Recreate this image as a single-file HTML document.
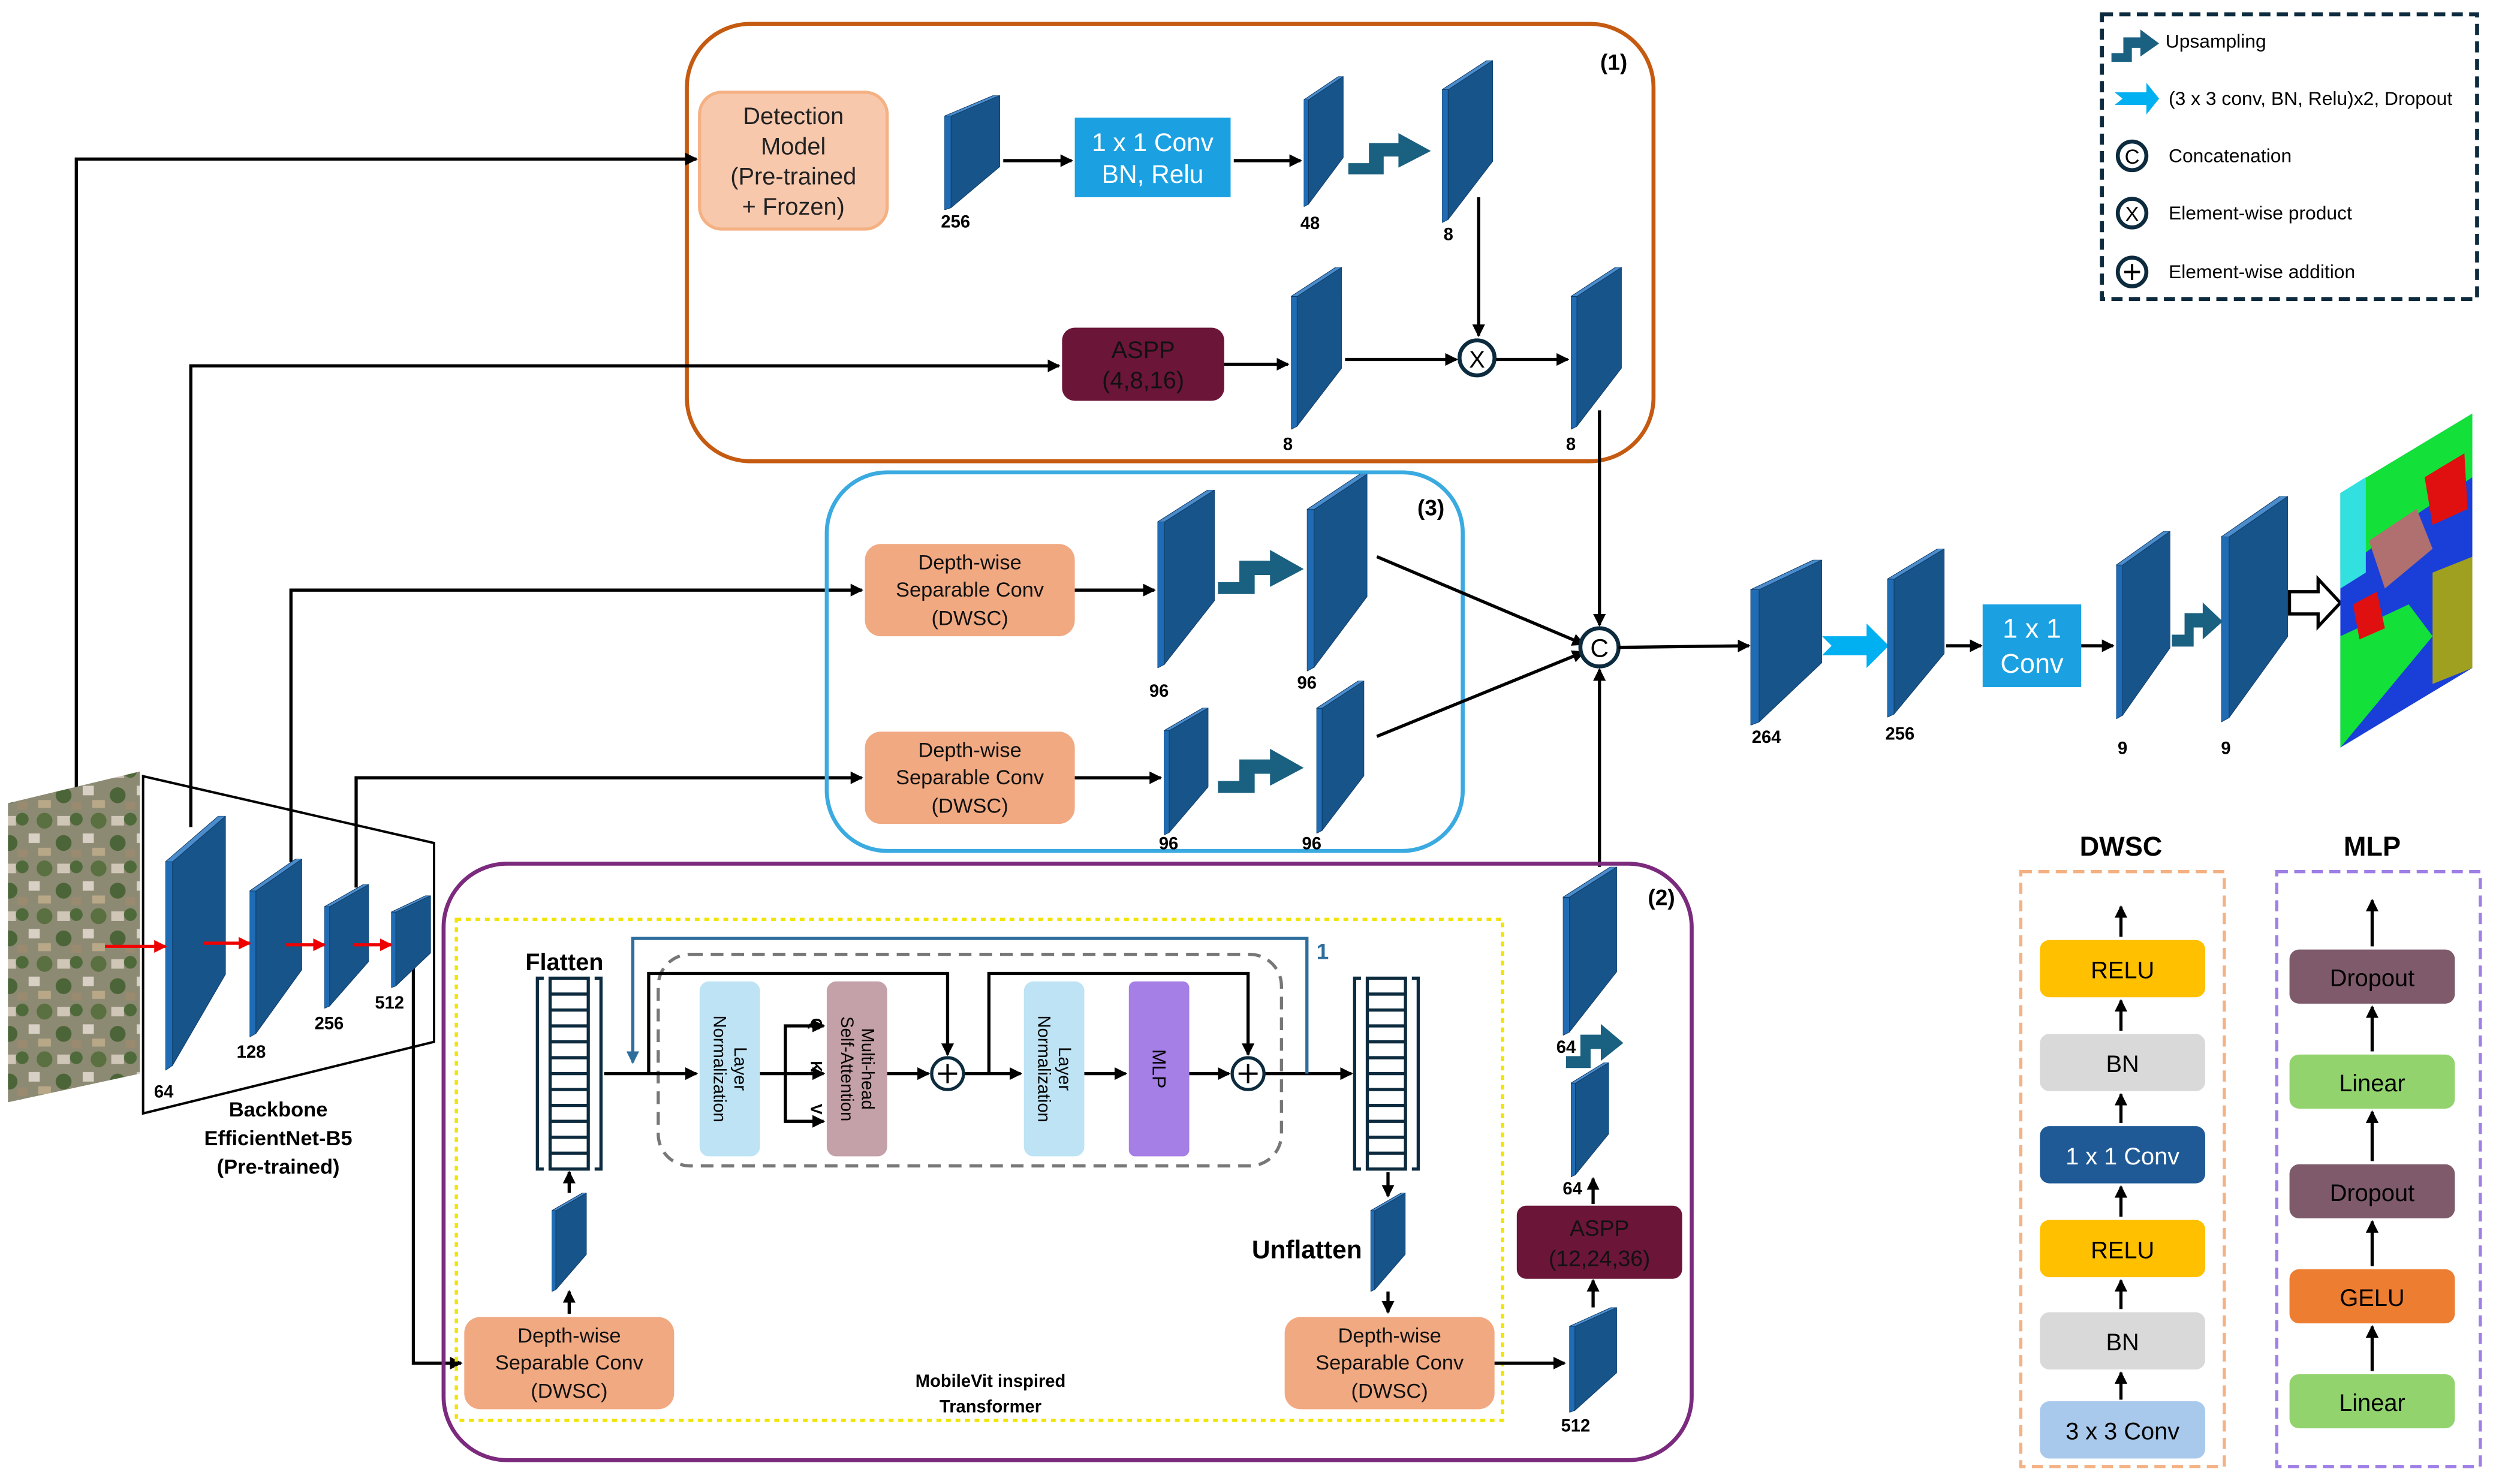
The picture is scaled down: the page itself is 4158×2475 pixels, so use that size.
<!DOCTYPE html>
<html><head><meta charset="utf-8">
<style>
html,body{margin:0;padding:0;background:#fff;}
svg{display:block;}
text{font-family:"Liberation Sans Narrow","Liberation Sans",sans-serif;}
</style></head>
<body>
<svg xmlns="http://www.w3.org/2000/svg" xmlns:xlink="http://www.w3.org/1999/xlink" width="4158" height="2475" viewBox="0 0 1568 933" preserveAspectRatio="none">
<defs>
<symbol id="cube" viewBox="0 0 100 100" preserveAspectRatio="none">
<polygon points="0,18 12,18 12,98 0,100" fill="#1f6cb4" stroke="#0f3a66" stroke-width="1" vector-effect="non-scaling-stroke"/>
<polygon points="12,18 100,0 100,62 12,98" fill="#17548a" stroke="#0f3a66" stroke-width="1" vector-effect="non-scaling-stroke"/>
<polygon points="0,18 88,0 100,0 12,18" fill="#4a8ccc" stroke="#0f3a66" stroke-width="1" vector-effect="non-scaling-stroke"/>
</symbol>
<symbol id="up" viewBox="0 0 56 40" preserveAspectRatio="none">
<path d="M0 38 V28 H14 V10 H34 V1 L56 17 L34 32 V22 H24 V38 Z" fill="#1a6080"/>
</symbol>
<marker id="ah" markerWidth="8" markerHeight="8" refX="7" refY="4" orient="auto" markerUnits="userSpaceOnUse">
<path d="M0,0 L8,4 L0,8 Z" fill="#000"/></marker>
<marker id="ahb" markerWidth="8" markerHeight="8" refX="7" refY="4" orient="auto" markerUnits="userSpaceOnUse">
<path d="M0,0 L8,4 L0,8 Z" fill="#2e6e9e"/></marker>
<marker id="ahr" markerWidth="8" markerHeight="8" refX="7" refY="4" orient="auto" markerUnits="userSpaceOnUse">
<path d="M0,0 L8,4 L0,8 Z" fill="#e00"/></marker>
<pattern id="sat" width="34" height="30" patternUnits="userSpaceOnUse">
<rect width="34" height="30" fill="#8d8a74"/>
<rect x="2" y="3" width="8" height="6" fill="#cfc6b8"/><rect x="18" y="14" width="7" height="6" fill="#d8d0c4"/>
<circle cx="14" cy="5" r="4" fill="#4f6a3a"/><circle cx="28" cy="6" r="5" fill="#5a7040"/>
<circle cx="6" cy="20" r="5" fill="#4c6538"/><rect x="24" y="23" width="8" height="5" fill="#b8a888"/>
<rect x="11" y="24" width="6" height="5" fill="#9a8a70"/>
</pattern>
</defs>

<!-- Region 1 -->
<rect x="432" y="15" width="608" height="275" rx="40" fill="none" stroke="#c55a11" stroke-width="2.5"/>
<text x="1015" y="44" font-size="14" font-weight="bold" text-anchor="middle">(1)</text>
<rect x="440" y="58" width="118" height="86" rx="14" fill="#f8c8ad" stroke="#f4b183" stroke-width="2"/>
<text font-size="15" text-anchor="middle" fill="#222"><tspan x="499" y="78">Detection</tspan><tspan x="499" y="97">Model</tspan><tspan x="499" y="116">(Pre-trained</tspan><tspan x="499" y="135">+ Frozen)</tspan></text>
<use href="#cube" x="594" y="60" width="35" height="72"/>
<text x="601" y="143" font-size="11" font-weight="bold" text-anchor="middle">256</text>
<line x1="631" y1="101" x2="674" y2="101" stroke="#000" stroke-width="2" marker-end="url(#ah)"/>
<rect x="676" y="74" width="98" height="50" fill="#1ba1e2"/>
<text font-size="16" text-anchor="middle" fill="#fff"><tspan x="725" y="95">1 x 1 Conv</tspan><tspan x="725" y="115">BN, Relu</tspan></text>
<line x1="776" y1="101" x2="818" y2="101" stroke="#000" stroke-width="2" marker-end="url(#ah)"/>
<use href="#cube" x="820" y="48" width="25" height="82"/>
<text x="824" y="144" font-size="11" font-weight="bold" text-anchor="middle">48</text>
<use href="#up" x="848" y="83" width="52" height="28"/>
<use href="#cube" x="907" y="38" width="32" height="102"/>
<text x="911" y="151" font-size="11" font-weight="bold" text-anchor="middle">8</text>
<line x1="930" y1="124" x2="930" y2="211" stroke="#000" stroke-width="2" marker-end="url(#ah)"/>
<rect x="668" y="206" width="102" height="46" rx="8" fill="#6b1538"/>
<text font-size="15" text-anchor="middle" fill="#111"><tspan x="719" y="225">ASPP</tspan><tspan x="719" y="244">(4,8,16)</tspan></text>
<line x1="770" y1="229" x2="810" y2="229" stroke="#000" stroke-width="2" marker-end="url(#ah)"/>
<use href="#cube" x="812" y="168" width="32" height="102"/>
<text x="810" y="283" font-size="11" font-weight="bold" text-anchor="middle">8</text>
<line x1="846" y1="226" x2="916" y2="226" stroke="#000" stroke-width="2" marker-end="url(#ah)"/>
<circle cx="929" cy="225" r="11" fill="#fff" stroke="#0d2b3e" stroke-width="2.5"/>
<text x="929" y="231" font-size="15" text-anchor="middle">X</text>
<line x1="941" y1="226" x2="986" y2="226" stroke="#000" stroke-width="2" marker-end="url(#ah)"/>
<use href="#cube" x="988" y="168" width="32" height="102"/>
<text x="988" y="283" font-size="11" font-weight="bold" text-anchor="middle">8</text>
<line x1="1006" y1="258" x2="1006" y2="393" stroke="#000" stroke-width="2" marker-end="url(#ah)"/>

<!-- Left connectors -->
<polyline points="48,500 48,100 438,100" fill="none" stroke="#000" stroke-width="2" marker-end="url(#ah)"/>
<polyline points="120,520 120,230 666,230" fill="none" stroke="#000" stroke-width="2" marker-end="url(#ah)"/>
<polyline points="183,542 183,371 542,371" fill="none" stroke="#000" stroke-width="2" marker-end="url(#ah)"/>
<polyline points="224,558 224,489 542,489" fill="none" stroke="#000" stroke-width="2" marker-end="url(#ah)"/>
<polyline points="260,605 260,857 290,857" fill="none" stroke="#000" stroke-width="2" marker-end="url(#ah)"/>

<!-- Region 3 -->
<rect x="520" y="297" width="400" height="238" rx="38" fill="none" stroke="#3aaae0" stroke-width="2.5"/>
<text x="900" y="324" font-size="14" font-weight="bold" text-anchor="middle">(3)</text>
<rect x="544" y="342" width="132" height="58" rx="10" fill="#f1a982"/>
<text font-size="13" text-anchor="middle" fill="#111"><tspan x="610" y="358">Depth-wise</tspan><tspan x="610" y="375">Separable Conv</tspan><tspan x="610" y="393">(DWSC)</tspan></text>
<line x1="676" y1="371" x2="726" y2="371" stroke="#000" stroke-width="2" marker-end="url(#ah)"/>
<use href="#cube" x="728" y="308" width="36" height="112"/>
<text x="729" y="438" font-size="11" font-weight="bold" text-anchor="middle">96</text>
<use href="#up" x="766" y="345" width="54" height="30"/>
<use href="#cube" x="822" y="298" width="38" height="124"/>
<text x="822" y="433" font-size="11" font-weight="bold" text-anchor="middle">96</text>
<line x1="866" y1="350" x2="996" y2="405" stroke="#000" stroke-width="2" marker-end="url(#ah)"/>
<rect x="544" y="460" width="132" height="58" rx="10" fill="#f1a982"/>
<text font-size="13" text-anchor="middle" fill="#111"><tspan x="610" y="476">Depth-wise</tspan><tspan x="610" y="493">Separable Conv</tspan><tspan x="610" y="511">(DWSC)</tspan></text>
<line x1="676" y1="489" x2="730" y2="489" stroke="#000" stroke-width="2" marker-end="url(#ah)"/>
<use href="#cube" x="732" y="445" width="28" height="80"/>
<text x="735" y="534" font-size="11" font-weight="bold" text-anchor="middle">96</text>
<use href="#up" x="766" y="470" width="54" height="30"/>
<use href="#cube" x="828" y="428" width="30" height="96"/>
<text x="825" y="534" font-size="11" font-weight="bold" text-anchor="middle">96</text>
<line x1="866" y1="463" x2="996" y2="410" stroke="#000" stroke-width="2" marker-end="url(#ah)"/>

<!-- Concat -->
<circle cx="1006" cy="407" r="12" fill="#fff" stroke="#0d2b3e" stroke-width="2.5"/>
<text x="1006" y="413" font-size="16" text-anchor="middle">C</text>
<line x1="1006" y1="545" x2="1006" y2="421" stroke="#000" stroke-width="2" marker-end="url(#ah)"/>
<line x1="1018" y1="407" x2="1100" y2="406" stroke="#000" stroke-width="2" marker-end="url(#ah)"/>
<use href="#cube" x="1101" y="352" width="45" height="104"/>
<text x="1111" y="467" font-size="11" font-weight="bold" text-anchor="middle">264</text>
<path d="M1146 400 H1174 V392 L1188 406 L1174 420 V412 H1146 L1152 406 Z" fill="#00b0f0"/>
<use href="#cube" x="1187" y="345" width="36" height="106"/>
<text x="1195" y="465" font-size="11" font-weight="bold" text-anchor="middle">256</text>
<line x1="1224" y1="406" x2="1246" y2="406" stroke="#000" stroke-width="2" marker-end="url(#ah)"/>
<rect x="1247" y="380" width="62" height="52" fill="#1ba1e2"/>
<text font-size="17" text-anchor="middle" fill="#fff"><tspan x="1278" y="401">1 x 1</tspan><tspan x="1278" y="423">Conv</tspan></text>
<line x1="1309" y1="406" x2="1329" y2="406" stroke="#000" stroke-width="2" marker-end="url(#ah)"/>
<use href="#cube" x="1331" y="334" width="34" height="118"/>
<text x="1335" y="474" font-size="11" font-weight="bold" text-anchor="middle">9</text>
<use href="#up" x="1366" y="378" width="32" height="30"/>
<use href="#cube" x="1397" y="312" width="42" height="142"/>
<text x="1400" y="474" font-size="11" font-weight="bold" text-anchor="middle">9</text>
<path d="M1440 372 H1458 V364 L1472 379 L1458 394 V386 H1440 Z" fill="#fff" stroke="#000" stroke-width="2"/>
<!-- output map -->
<polygon points="1472,310 1555,260 1555,420 1472,470" fill="#1a3fd8"/>
<polygon points="1472,310 1555,260 1555,300 1510,330 1472,360" fill="#13e13a"/>
<polygon points="1472,400 1515,380 1530,400 1472,470" fill="#13e13a"/>
<polygon points="1490,340 1520,320 1530,345 1500,370" fill="#b07070"/>
<polygon points="1525,300 1550,285 1552,320 1530,330" fill="#e01010"/>
<polygon points="1530,360 1555,350 1555,420 1530,430" fill="#a0a020"/>
<polygon points="1480,380 1495,372 1500,395 1484,402" fill="#e01010"/>
<polygon points="1472,310 1488,300 1488,360 1472,370" fill="#33e0e0"/>

<!-- Backbone -->
<polygon points="5,505 88,485 88,675 5,693" fill="url(#sat)"/>
<polygon points="90,488 273,530 273,655 90,700" fill="none" stroke="#000" stroke-width="1.5"/>
<use href="#cube" x="104" y="513" width="38" height="160"/>
<text x="103" y="690" font-size="11" font-weight="bold" text-anchor="middle">64</text>
<use href="#cube" x="157" y="540" width="33" height="112"/>
<text x="158" y="665" font-size="11" font-weight="bold" text-anchor="middle">128</text>
<use href="#cube" x="204" y="556" width="28" height="78"/>
<text x="207" y="647" font-size="11" font-weight="bold" text-anchor="middle">256</text>
<use href="#cube" x="246" y="563" width="25" height="58"/>
<text x="245" y="634" font-size="11" font-weight="bold" text-anchor="middle">512</text>
<line x1="66" y1="595" x2="104" y2="595" stroke="#e00" stroke-width="2" marker-end="url(#ahr)"/>
<line x1="128" y1="593" x2="157" y2="593" stroke="#e00" stroke-width="2" marker-end="url(#ahr)"/>
<line x1="180" y1="594" x2="204" y2="594" stroke="#e00" stroke-width="2" marker-end="url(#ahr)"/>
<line x1="222" y1="594" x2="246" y2="594" stroke="#e00" stroke-width="2" marker-end="url(#ahr)"/>
<text font-size="13" font-weight="bold" text-anchor="middle"><tspan x="175" y="702">Backbone</tspan><tspan x="175" y="720">EfficientNet-B5</tspan><tspan x="175" y="738">(Pre-trained)</tspan></text>

<!-- Region 2 -->
<rect x="279" y="543" width="785" height="375" rx="40" fill="none" stroke="#7b2a7d" stroke-width="2.5"/>
<text x="1045" y="569" font-size="14" font-weight="bold" text-anchor="middle">(2)</text>
<rect x="287" y="578" width="658" height="315" fill="none" stroke="#f0e400" stroke-width="2" stroke-dasharray="3,3"/>
<rect x="414" y="600" width="392" height="133" rx="20" fill="none" stroke="#777" stroke-width="2" stroke-dasharray="8,5"/>
<text x="355" y="610" font-size="15" font-weight="bold" text-anchor="middle">Flatten</text>
<g stroke="#0d2b3e" stroke-width="2" fill="none">
<rect x="346" y="615" width="24" height="120"/>
<path d="M342 615 H338 V735 H342 M374 615 H378 V735 H374"/>
<path d="M346 625 H370 M346 635 H370 M346 645 H370 M346 655 H370 M346 665 H370 M346 675 H370 M346 685 H370 M346 695 H370 M346 705 H370 M346 715 H370 M346 725 H370"/>
<rect x="860" y="615" width="24" height="120"/>
<path d="M856 615 H852 V735 H856 M888 615 H892 V735 H888"/>
<path d="M860 625 H884 M860 635 H884 M860 645 H884 M860 655 H884 M860 665 H884 M860 675 H884 M860 685 H884 M860 695 H884 M860 705 H884 M860 715 H884 M860 725 H884"/>
</g>
<use href="#cube" x="347" y="750" width="22" height="62"/>
<line x1="358" y1="826" x2="358" y2="812" stroke="#000" stroke-width="2" marker-end="url(#ah)"/>
<line x1="358" y1="750" x2="358" y2="737" stroke="#000" stroke-width="2" marker-end="url(#ah)"/>
<rect x="292" y="828" width="132" height="58" rx="10" fill="#f1a982"/>
<text font-size="13" text-anchor="middle" fill="#111"><tspan x="358" y="844">Depth-wise</tspan><tspan x="358" y="861">Separable Conv</tspan><tspan x="358" y="879">(DWSC)</tspan></text>
<!-- transformer flow -->
<g stroke="#000" stroke-width="2" fill="none">
<line x1="380" y1="675" x2="438" y2="675" marker-end="url(#ah)"/>
<polyline points="408,675 408,612 596,612 596,663" marker-end="url(#ah)"/>
<line x1="478" y1="675" x2="518" y2="675" marker-end="url(#ah)"/>
<polyline points="494,675 494,645 518,645" marker-end="url(#ah)"/>
<polyline points="494,675 494,705 518,705" marker-end="url(#ah)"/>
<line x1="558" y1="675" x2="584" y2="675" marker-end="url(#ah)"/>
<line x1="606" y1="675" x2="642" y2="675" marker-end="url(#ah)"/>
<polyline points="622,675 622,612 785,612 785,663" marker-end="url(#ah)"/>
<line x1="682" y1="675" x2="708" y2="675" marker-end="url(#ah)"/>
<line x1="748" y1="675" x2="773" y2="675" marker-end="url(#ah)"/>
<line x1="795" y1="675" x2="850" y2="675" marker-end="url(#ah)"/>
</g>
<polyline points="822,675 822,590 398,590 398,668" fill="none" stroke="#2e6e9e" stroke-width="2" marker-end="url(#ahb)"/>
<text x="828" y="603" font-size="14" font-weight="bold" fill="#2e6e9e">1</text>
<rect x="440" y="617" width="38" height="110" rx="6" fill="#bde3f5"/>
<text transform="translate(459,672) rotate(90)" font-size="11" text-anchor="middle"><tspan x="0" y="-3">Layer</tspan><tspan x="0" y="10">Normalization</tspan></text>
<rect x="520" y="617" width="38" height="110" rx="6" fill="#c4a0a8"/>
<text transform="translate(539,672) rotate(90)" font-size="11" text-anchor="middle"><tspan x="0" y="-3">Multi-head</tspan><tspan x="0" y="10">Self-Attention</tspan></text>
<text x="510" y="640" font-size="10" font-weight="bold" transform="rotate(90 510 640)">Q</text>
<text x="510" y="667" font-size="10" font-weight="bold" transform="rotate(90 510 667)">K</text>
<text x="510" y="694" font-size="10" font-weight="bold" transform="rotate(90 510 694)">V</text>
<circle cx="596" cy="675" r="10" fill="#fff" stroke="#0d2b3e" stroke-width="2"/>
<path d="M590 675 H602 M596 669 V681" stroke="#000" stroke-width="1.5"/>
<rect x="644" y="617" width="38" height="110" rx="6" fill="#bde3f5"/>
<text transform="translate(663,672) rotate(90)" font-size="11" text-anchor="middle"><tspan x="0" y="-3">Layer</tspan><tspan x="0" y="10">Normalization</tspan></text>
<rect x="710" y="617" width="38" height="110" rx="4" fill="#a57ee6"/>
<text transform="translate(729,672) rotate(90)" font-size="12" text-anchor="middle" y="4">MLP</text>
<circle cx="785" cy="675" r="10" fill="#fff" stroke="#0d2b3e" stroke-width="2"/>
<path d="M779 675 H791 M785 669 V681" stroke="#000" stroke-width="1.5"/>
<line x1="873" y1="737" x2="873" y2="752" stroke="#000" stroke-width="2" marker-end="url(#ah)"/>
<use href="#cube" x="862" y="750" width="22" height="62"/>
<text x="822" y="791" font-size="16" font-weight="bold" text-anchor="middle">Unflatten</text>
<line x1="873" y1="812" x2="873" y2="825" stroke="#000" stroke-width="2" marker-end="url(#ah)"/>
<rect x="808" y="828" width="132" height="58" rx="10" fill="#f1a982"/>
<text font-size="13" text-anchor="middle" fill="#111"><tspan x="874" y="844">Depth-wise</tspan><tspan x="874" y="861">Separable Conv</tspan><tspan x="874" y="879">(DWSC)</tspan></text>
<text font-size="11" font-weight="bold" text-anchor="middle"><tspan x="623" y="872">MobileVit inspired</tspan><tspan x="623" y="888">Transformer</tspan></text>
<line x1="940" y1="857" x2="984" y2="857" stroke="#000" stroke-width="2" marker-end="url(#ah)"/>
<use href="#cube" x="987" y="822" width="30" height="66"/>
<text x="991" y="900" font-size="11" font-weight="bold" text-anchor="middle">512</text>
<line x1="1002" y1="822" x2="1002" y2="805" stroke="#000" stroke-width="2" marker-end="url(#ah)"/>
<rect x="954" y="758" width="104" height="46" rx="6" fill="#6b1538"/>
<text font-size="14" text-anchor="middle" fill="#111"><tspan x="1006" y="777">ASPP</tspan><tspan x="1006" y="796">(12,24,36)</tspan></text>
<line x1="1002" y1="757" x2="1002" y2="741" stroke="#000" stroke-width="2" marker-end="url(#ah)"/>
<use href="#cube" x="988" y="668" width="24" height="72"/>
<text x="989" y="751" font-size="11" font-weight="bold" text-anchor="middle">64</text>
<use href="#up" x="985" y="643" width="36" height="30"/>
<use href="#cube" x="983" y="545" width="34" height="106"/>
<text x="985" y="662" font-size="11" font-weight="bold" text-anchor="middle">64</text>

<!-- Legend -->
<rect x="1322" y="9" width="236" height="179" fill="none" stroke="#0d2b3e" stroke-width="2.5" stroke-dasharray="7,4"/>
<use href="#up" x="1328" y="18" width="30" height="22"/>
<text x="1362" y="30" font-size="12">Upsampling</text>
<path d="M1330 58 H1350 V52 L1358 62 L1350 72 V66 H1330 L1335 62 Z" fill="#00b0f0"/>
<text x="1364" y="66" font-size="12">(3 x 3 conv, BN, Relu)x2, Dropout</text>
<circle cx="1341" cy="98" r="9" fill="none" stroke="#0d2b3e" stroke-width="2.5"/>
<text x="1341" y="103" font-size="13" text-anchor="middle">C</text>
<text x="1364" y="102" font-size="12">Concatenation</text>
<circle cx="1341" cy="134" r="9" fill="none" stroke="#0d2b3e" stroke-width="2.5"/>
<text x="1341" y="139" font-size="13" text-anchor="middle">X</text>
<text x="1364" y="138" font-size="12">Element-wise product</text>
<circle cx="1341" cy="171" r="9" fill="none" stroke="#0d2b3e" stroke-width="2.5"/>
<path d="M1336 171 H1346 M1341 166 V176" stroke="#000" stroke-width="1.5"/>
<text x="1364" y="175" font-size="12">Element-wise addition</text>

<!-- DWSC panel -->
<text x="1334" y="538" font-size="17" font-weight="bold" text-anchor="middle">DWSC</text>
<rect x="1271" y="548" width="128" height="374" fill="none" stroke="#f4b183" stroke-width="2" stroke-dasharray="7,4"/>
<g stroke="#000" stroke-width="2">
<line x1="1334" y1="589" x2="1334" y2="570" marker-end="url(#ah)"/>
<line x1="1334" y1="648" x2="1334" y2="629" marker-end="url(#ah)"/>
<line x1="1334" y1="706" x2="1334" y2="688" marker-end="url(#ah)"/>
<line x1="1334" y1="765" x2="1334" y2="746" marker-end="url(#ah)"/>
<line x1="1334" y1="823" x2="1334" y2="805" marker-end="url(#ah)"/>
<line x1="1334" y1="880" x2="1334" y2="863" marker-end="url(#ah)"/>
</g>
<rect x="1283" y="591" width="104" height="36" rx="6" fill="#ffc000"/><text x="1335" y="615" font-size="15" text-anchor="middle">RELU</text>
<rect x="1283" y="650" width="104" height="36" rx="6" fill="#d9d9d9"/><text x="1335" y="674" font-size="15" text-anchor="middle">BN</text>
<rect x="1283" y="708" width="104" height="36" rx="6" fill="#1f5a96"/><text x="1335" y="732" font-size="15" text-anchor="middle" fill="#fff">1 x 1 Conv</text>
<rect x="1283" y="767" width="104" height="36" rx="6" fill="#ffc000"/><text x="1335" y="791" font-size="15" text-anchor="middle">RELU</text>
<rect x="1283" y="825" width="104" height="36" rx="6" fill="#d9d9d9"/><text x="1335" y="849" font-size="15" text-anchor="middle">BN</text>
<rect x="1283" y="881" width="104" height="36" rx="6" fill="#a9c9ec"/><text x="1335" y="905" font-size="15" text-anchor="middle">3 x 3 Conv</text>

<!-- MLP panel -->
<text x="1492" y="538" font-size="17" font-weight="bold" text-anchor="middle">MLP</text>
<rect x="1432" y="548" width="128" height="374" fill="none" stroke="#9f7fe6" stroke-width="2" stroke-dasharray="7,4"/>
<g stroke="#000" stroke-width="2">
<line x1="1492" y1="595" x2="1492" y2="566" marker-end="url(#ah)"/>
<line x1="1492" y1="661" x2="1492" y2="633" marker-end="url(#ah)"/>
<line x1="1492" y1="730" x2="1492" y2="699" marker-end="url(#ah)"/>
<line x1="1492" y1="796" x2="1492" y2="768" marker-end="url(#ah)"/>
<line x1="1492" y1="862" x2="1492" y2="834" marker-end="url(#ah)"/>
</g>
<rect x="1440" y="597" width="104" height="34" rx="6" fill="#7e5a6b"/><text x="1492" y="620" font-size="15" text-anchor="middle">Dropout</text>
<rect x="1440" y="663" width="104" height="34" rx="6" fill="#92d36e"/><text x="1492" y="686" font-size="15" text-anchor="middle">Linear</text>
<rect x="1440" y="732" width="104" height="34" rx="6" fill="#7e5a6b"/><text x="1492" y="755" font-size="15" text-anchor="middle">Dropout</text>
<rect x="1440" y="798" width="104" height="34" rx="6" fill="#ed7d31"/><text x="1492" y="821" font-size="15" text-anchor="middle">GELU</text>
<rect x="1440" y="864" width="104" height="34" rx="6" fill="#92d36e"/><text x="1492" y="887" font-size="15" text-anchor="middle">Linear</text>
</svg>
</body></html>
